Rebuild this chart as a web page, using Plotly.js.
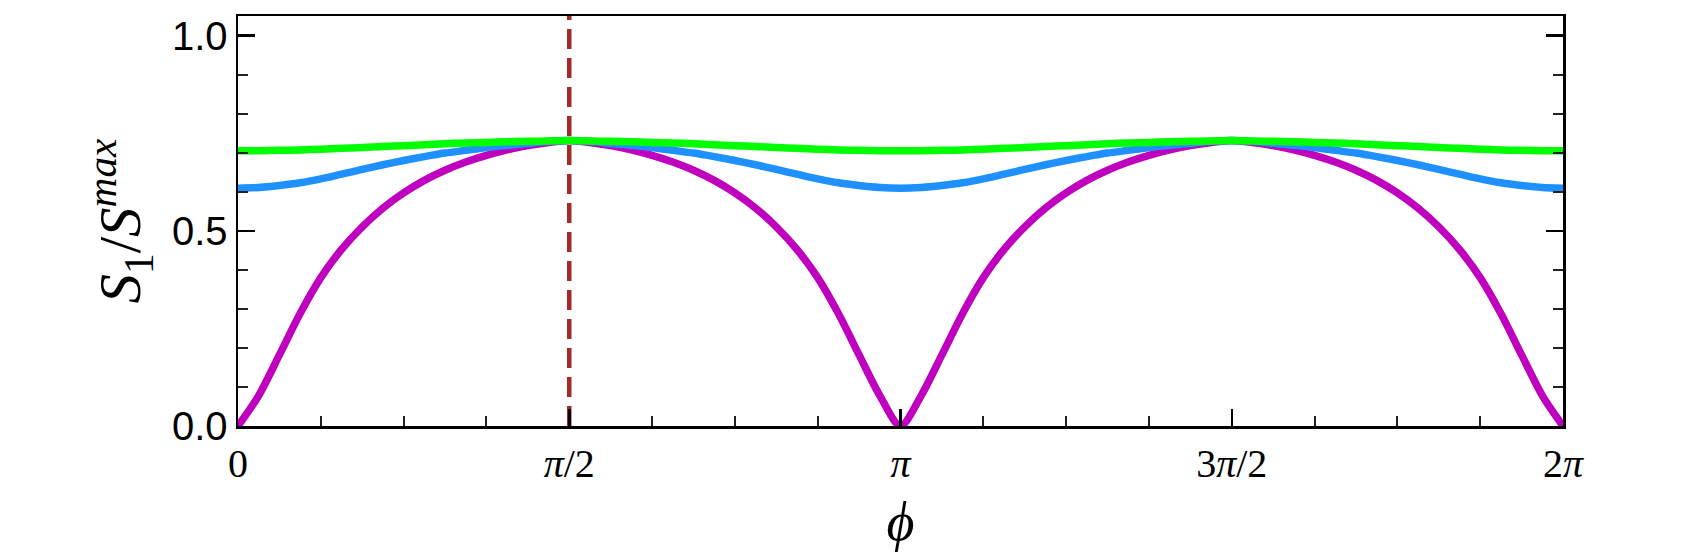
<!DOCTYPE html>
<html>
<head>
<meta charset="utf-8">
<script src="https://cdn.plot.ly/plotly-3.0.1.min.js"></script>
<style>
  html, body { margin: 0; padding: 0; background: #fff; }
  #plot { width: 1700px; height: 560px; }
</style>
</head>
<body>
<div id="plot"></div>
<script>
// phi sampled every pi/32, in units of pi (0 .. 2)
const phiOverPi = Array.from({ length: 65 }, (_, k) => k / 32);

// S1 / S^max, one value per sample of phiOverPi
const magentaCurve = [
  0.000, 0.078, 0.182, 0.288, 0.380, 0.452, 0.510, 0.558, 0.597, 0.629, 0.655, 0.676, 0.693, 0.707, 0.718, 0.726,
  0.731, 0.726, 0.718, 0.707, 0.693, 0.676, 0.655, 0.629, 0.597, 0.558, 0.510, 0.452, 0.380, 0.288, 0.182, 0.078,
  0.000, 0.078, 0.182, 0.288, 0.380, 0.452, 0.510, 0.558, 0.597, 0.629, 0.655, 0.676, 0.693, 0.707, 0.718, 0.726,
  0.731, 0.726, 0.718, 0.707, 0.693, 0.676, 0.655, 0.629, 0.597, 0.558, 0.510, 0.452, 0.380, 0.288, 0.182, 0.078,
  0.000
];
const blueCurve = [
  0.609, 0.611, 0.616, 0.623, 0.633, 0.645, 0.657, 0.669, 0.680, 0.690, 0.699, 0.706, 0.713, 0.719, 0.724, 0.729,
  0.731, 0.729, 0.724, 0.719, 0.713, 0.706, 0.699, 0.690, 0.680, 0.669, 0.657, 0.645, 0.633, 0.623, 0.616, 0.611,
  0.609, 0.611, 0.616, 0.623, 0.633, 0.645, 0.657, 0.669, 0.680, 0.690, 0.699, 0.706, 0.713, 0.719, 0.724, 0.729,
  0.731, 0.729, 0.724, 0.719, 0.713, 0.706, 0.699, 0.690, 0.680, 0.669, 0.657, 0.645, 0.633, 0.623, 0.616, 0.611,
  0.609
];
const greenCurve = [
  0.705, 0.705, 0.706, 0.707, 0.709, 0.711, 0.713, 0.716, 0.718, 0.720, 0.723, 0.725, 0.726, 0.728, 0.729, 0.730,
  0.731, 0.730, 0.729, 0.728, 0.726, 0.725, 0.723, 0.720, 0.718, 0.716, 0.713, 0.711, 0.709, 0.707, 0.706, 0.705,
  0.705, 0.705, 0.706, 0.707, 0.709, 0.711, 0.713, 0.716, 0.718, 0.720, 0.723, 0.725, 0.726, 0.728, 0.729, 0.730,
  0.731, 0.730, 0.729, 0.728, 0.726, 0.725, 0.723, 0.720, 0.718, 0.716, 0.713, 0.711, 0.709, 0.707, 0.706, 0.705,
  0.705
];

// dashed marker position (units of pi)
const markerPhi = 0.5;

// tick labels
const xTickVals = [0, 0.5, 1, 1.5, 2];
const xTickText = ['0', '<i>π</i>/2', '<i>π</i>', '3<i>π</i>/2', '2<i>π</i>'];
const yTickVals = [0, 0.5, 1.0];
const yTickText = ['0.0', '0.5', '1.0'];

function curveTrace(y, color) {
  return {
    x: phiOverPi,
    y: y,
    type: 'scatter',
    mode: 'lines',
    line: { color: color, width: 7.5, shape: 'spline', smoothing: 0.8 },
    hoverinfo: 'skip',
    showlegend: false
  };
}

const traces = [
  curveTrace(magentaCurve, '#bf00bf'),
  curveTrace(blueCurve, '#1e90ff'),
  curveTrace(greenCurve, '#00ff00')
];

const axisCommon = {
  showgrid: false,
  zeroline: false,
  showline: true,
  linecolor: '#000',
  linewidth: 2.5,
  ticks: 'inside',
  tickcolor: '#000',
  tickwidth: 2.5,
  ticklen: 17
};

const layout = {
  width: 1700,
  height: 560,
  margin: { l: 238, r: 137, t: 16, b: 134 },
  paper_bgcolor: '#fff',
  plot_bgcolor: '#fff',
  showlegend: false,
  xaxis: Object.assign({}, axisCommon, {
    range: [0, 2],
    mirror: true,
    tickmode: 'array',
    tickvals: xTickVals,
    ticktext: xTickText,
    tickfont: { family: 'Liberation Serif', size: 40, color: '#000' },
    minor: { tickmode: 'linear', tick0: 0, dtick: 0.125, ticks: 'inside', ticklen: 10, tickwidth: 2, tickcolor: '#222' },
    title: { text: '<i>ϕ</i>', font: { family: 'Liberation Serif', size: 54, color: '#000' }, standoff: 18 }
  }),
  yaxis: Object.assign({}, axisCommon, {
    range: [0, 1.05],
    mirror: 'ticks',
    tickmode: 'array',
    tickvals: yTickVals,
    ticktext: yTickText,
    tickfont: { family: 'Liberation Sans', size: 40, color: '#000' },
    minor: { tickmode: 'linear', tick0: 0, dtick: 0.1, ticks: 'inside', ticklen: 10, tickwidth: 2, tickcolor: '#222' },
    title: {
      text: '<i>S</i><sub>1</sub>/<i>S</i><sup><i>max</i></sup>',
      font: { family: 'Liberation Serif', size: 59, color: '#000' },
      standoff: 12
    }
  }),
  shapes: [{
    type: 'line',
    xref: 'x', yref: 'paper',
    x0: markerPhi, x1: markerPhi, y0: 0, y1: 1,
    line: { color: '#a52a2a', width: 4.5, dash: '20px,9px' },
    layer: 'below'
  }]
};

Plotly.newPlot('plot', traces, layout, { staticPlot: true, displayModeBar: false });
</script>
</body>
</html>
